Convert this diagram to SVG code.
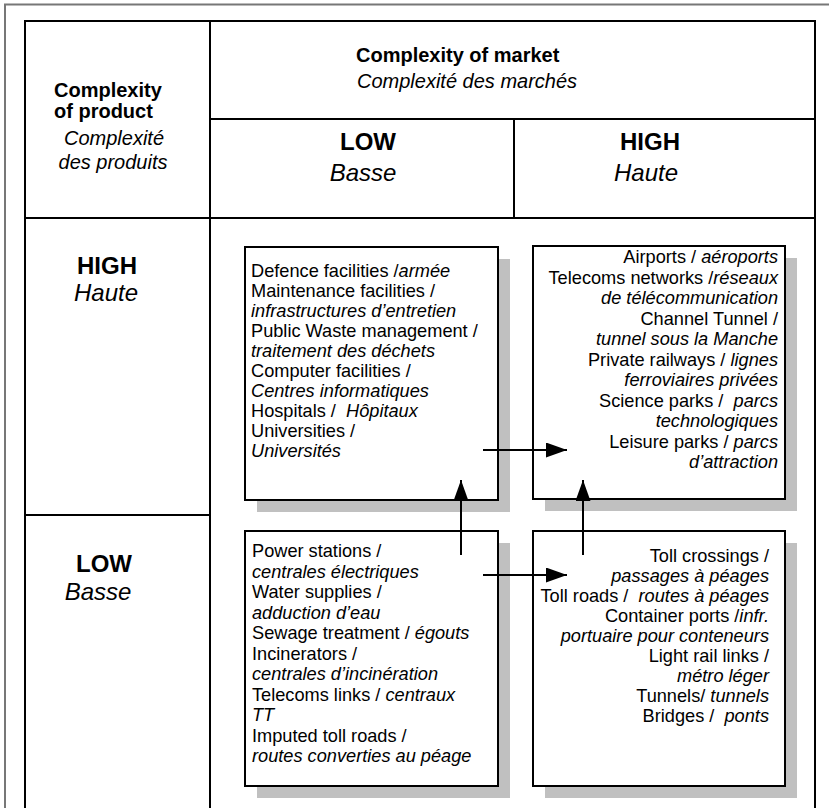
<svg xmlns="http://www.w3.org/2000/svg" width="829" height="808" viewBox="0 0 829 808">
  <style>
    text { font-family: "Liberation Sans", Arial, Helvetica, sans-serif; fill: #000; }
    .b { font-weight: bold; }
    .i { font-style: italic; }
    .h20 { font-size: 20px; }
    .h24 { font-size: 24px; }
    .body { font-size: 18.2px; }
    .grid { stroke: #000; stroke-width: 2; fill: none; }
    .frame { stroke: #777; stroke-width: 2; fill: none; }
    .box { fill: #fff; stroke: #000; stroke-width: 2; }
    .shadow { fill: #c0c0c0; }
    .conn { stroke: #000; stroke-width: 2; fill: none; marker-end: url(#head); }
  </style>
  <defs>
    <marker id="head" markerWidth="21" markerHeight="15" refX="21" refY="7.5" orient="auto" markerUnits="userSpaceOnUse" viewBox="0 0 21 15">
      <path d="M0,0 L21,7.5 L0,15 Z" fill="#000"/>
    </marker>
  </defs>

  <rect width="829" height="808" fill="#fff"/>

  <!-- outer frame -->
  <path class="frame" d="M5,808 V4.5 H829"/>

  <!-- table grid -->
  <g id="grid">
    <path class="grid" d="M25,808 V21 H815 V808"/>
    <path class="grid" d="M210,21 V808"/>
    <path class="grid" d="M210,119 H815"/>
    <path class="grid" d="M514,119 V218"/>
    <path class="grid" d="M25,218 H815"/>
    <path class="grid" d="M25,515 H210"/>
  </g>

  <!-- header labels -->
  <g id="product-header">
    <text class="b h20" x="54" y="97">Complexity</text>
    <text class="b h20" x="54" y="118">of product</text>
    <text class="i h20" x="114" y="145" text-anchor="middle">Complexité</text>
    <text class="i h20" x="113" y="169" text-anchor="middle">des produits</text>
  </g>
  <g id="market-header">
    <text class="b h20" x="356" y="62">Complexity of market</text>
    <text class="i h20" x="357" y="88">Complexité des marchés</text>
  </g>
  <g id="market-low">
    <text class="b h24" x="368" y="150" text-anchor="middle">LOW</text>
    <text class="i h24" x="363" y="181" text-anchor="middle">Basse</text>
  </g>
  <g id="market-high">
    <text class="b h24" x="650" y="150" text-anchor="middle">HIGH</text>
    <text class="i h24" x="646" y="181" text-anchor="middle">Haute</text>
  </g>
  <g id="product-high">
    <text class="b h24" x="107" y="274" text-anchor="middle">HIGH</text>
    <text class="i h24" x="106" y="301" text-anchor="middle">Haute</text>
  </g>
  <g id="product-low">
    <text class="b h24" x="104" y="572" text-anchor="middle">LOW</text>
    <text class="i h24" x="98" y="600" text-anchor="middle">Basse</text>
  </g>

  <!-- high product / low market -->
  <g id="box-high-low">
    <rect class="shadow" x="257" y="259" width="253" height="253"/>
    <rect class="box" x="245" y="247" width="253" height="253"/>
    <text class="body" x="251" y="277">Defence facilities /<tspan class="i">armée</tspan></text>
    <text class="body" x="251" y="297">Maintenance facilities /</text>
    <text class="body i" x="251" y="317">infrastructures d’entretien</text>
    <text class="body" x="251" y="337">Public Waste management /</text>
    <text class="body i" x="251" y="357">traitement des déchets</text>
    <text class="body" x="251" y="377">Computer facilities /</text>
    <text class="body i" x="251" y="397">Centres informatiques</text>
    <text class="body" x="251" y="417" xml:space="preserve">Hospitals /  <tspan class="i">Hôpitaux</tspan></text>
    <text class="body" x="251" y="437">Universities /</text>
    <text class="body i" x="251" y="457">Universités</text>
  </g>

  <!-- high product / high market -->
  <g id="box-high-high">
    <rect class="shadow" x="545" y="258" width="252" height="253"/>
    <rect class="box" x="533" y="246" width="252" height="253"/>
    <g text-anchor="end">
      <text class="body" x="778" y="263">Airports / <tspan class="i">aéroports</tspan></text>
      <text class="body" x="778" y="283.5">Telecoms networks /<tspan class="i">réseaux</tspan></text>
      <text class="body i" x="778" y="304">de télécommunication</text>
      <text class="body" x="778" y="324.5">Channel Tunnel /</text>
      <text class="body i" x="778" y="345">tunnel sous la Manche</text>
      <text class="body" x="778" y="365.5">Private railways / <tspan class="i">lignes</tspan></text>
      <text class="body i" x="778" y="386">ferroviaires privées</text>
      <text class="body" x="778" y="406.5" xml:space="preserve">Science parks /  <tspan class="i">parcs</tspan></text>
      <text class="body i" x="778" y="427">technologiques</text>
      <text class="body" x="778" y="447.5">Leisure parks / <tspan class="i">parcs</tspan></text>
      <text class="body i" x="778" y="468">d’attraction</text>
    </g>
  </g>

  <!-- low product / low market -->
  <g id="box-low-low">
    <rect class="shadow" x="257" y="543" width="253" height="255"/>
    <rect class="box" x="245" y="531" width="253" height="255"/>
    <text class="body" x="252" y="557">Power stations /</text>
    <text class="body i" x="252" y="577.5">centrales électriques</text>
    <text class="body" x="252" y="598">Water supplies /</text>
    <text class="body i" x="252" y="618.5">adduction d’eau</text>
    <text class="body" x="252" y="639">Sewage treatment / <tspan class="i">égouts</tspan></text>
    <text class="body" x="252" y="659.5">Incinerators /</text>
    <text class="body i" x="252" y="680">centrales d’incinération</text>
    <text class="body" x="252" y="700.5">Telecoms links / <tspan class="i">centraux</tspan></text>
    <text class="body i" x="252" y="721">TT</text>
    <text class="body" x="252" y="741.5">Imputed toll roads /</text>
    <text class="body i" x="252" y="762">routes converties au péage</text>
  </g>

  <!-- low product / high market -->
  <g id="box-low-high">
    <rect class="shadow" x="545" y="543" width="252" height="255"/>
    <rect class="box" x="533" y="531" width="252" height="255"/>
    <g text-anchor="end">
      <text class="body" x="769" y="562">Toll crossings /</text>
      <text class="body i" x="769" y="582">passages à péages</text>
      <text class="body" x="769" y="602" xml:space="preserve">Toll roads /  <tspan class="i">routes à péages</tspan></text>
      <text class="body" x="769" y="622">Container ports /<tspan class="i">infr.</tspan></text>
      <text class="body i" x="769" y="642">portuaire pour conteneurs</text>
      <text class="body" x="769" y="662">Light rail links /</text>
      <text class="body i" x="769" y="682">métro léger</text>
      <text class="body" x="769" y="702">Tunnels/ <tspan class="i">tunnels</tspan></text>
      <text class="body" x="769" y="722" xml:space="preserve">Bridges /  <tspan class="i">ponts</tspan></text>
    </g>
  </g>

  <!-- connectors -->
  <g id="connectors">
    <path class="conn" d="M483,450 H567"/>
    <path class="conn" d="M483,575 H567"/>
    <path class="conn" d="M461,555 V480"/>
    <path class="conn" d="M583,555 V480"/>
  </g>
</svg>
